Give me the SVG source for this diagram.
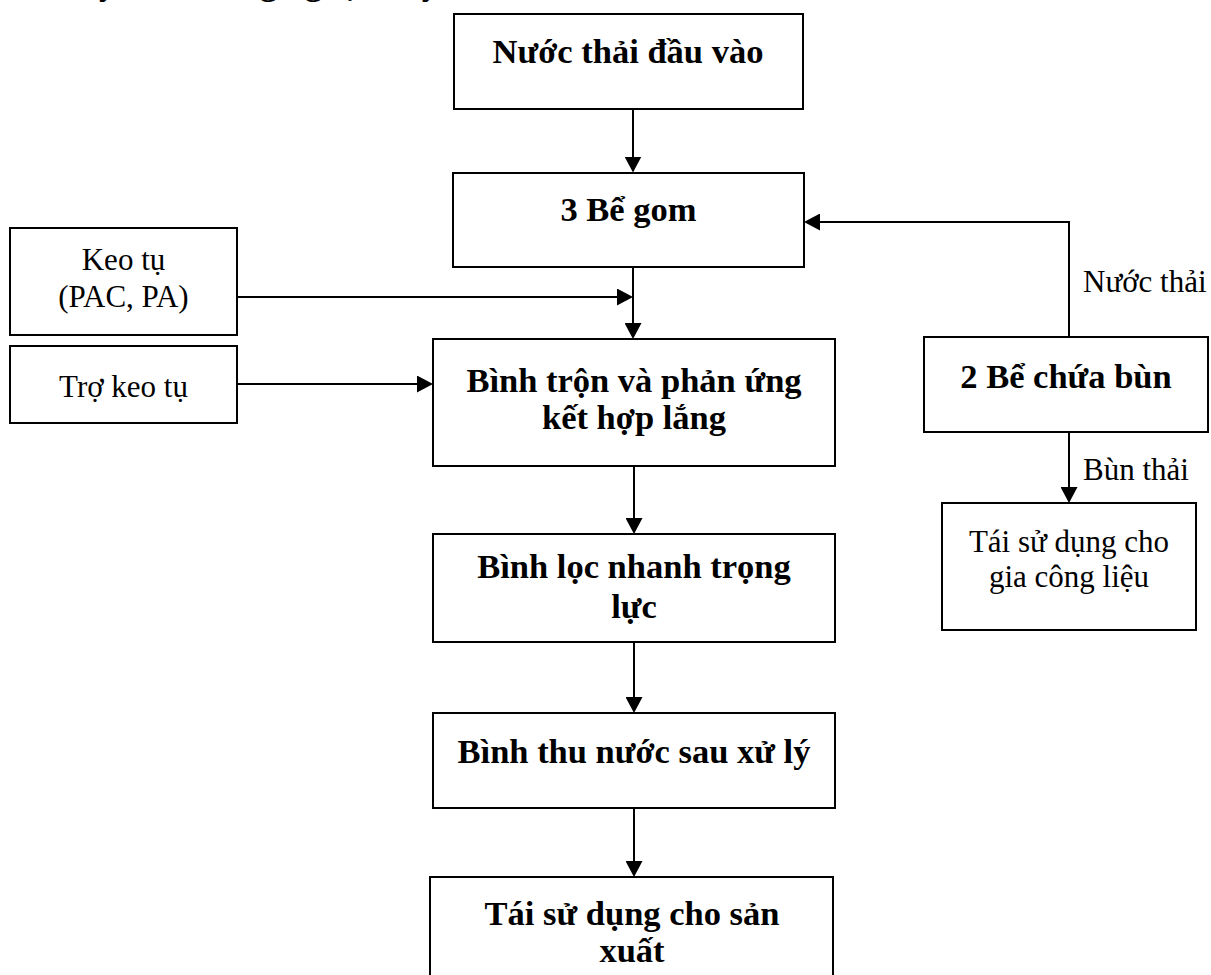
<svg xmlns="http://www.w3.org/2000/svg" width="1211" height="975" viewBox="0 0 1211 975">
  <style>
    .box { fill: #ffffff; stroke: #000000; stroke-width: 2; }
    .line { fill: none; stroke: #000000; stroke-width: 2; stroke-linecap: butt; }
    .arrow { marker-end: url(#head); }
    .b { font-family: "Liberation Serif", "Times New Roman", serif; font-weight: bold; font-size: 34.5px; fill: #000000; text-anchor: middle; }
    .r { font-family: "Liberation Serif", "Times New Roman", serif; font-size: 31px; fill: #000000; text-anchor: middle; }
    .lbl { font-family: "Liberation Serif", "Times New Roman", serif; font-size: 31px; fill: #000000; text-anchor: start; }
  </style>
  <defs>
    <marker id="head" markerUnits="userSpaceOnUse" markerWidth="17" markerHeight="17" viewBox="0 0 17 17" refX="13" refY="8.5" orient="auto">
      <path d="M0,0 L16,8.5 L0,17 Z" fill="#000000"/>
    </marker>
  </defs>
  <rect width="1211" height="975" fill="#ffffff"/>

  <!-- heading line, mostly above the page edge -->
  <text x="53" y="-5" class="b" style="text-anchor:start">Quy trình công nghệ xử lý</text>

  <!-- connectors -->
  <g id="connectors">
    <path class="line arrow" d="M633,109 L633,169.5"/>
    <path class="line arrow" d="M633,267 L633,336"/>
    <path class="line arrow" d="M237,297 L630,297"/>
    <path class="line arrow" d="M237,384 L430,384"/>
    <path class="line arrow" d="M1069,337 L1069,222 L807,222"/>
    <path class="line arrow" d="M1069,432 L1069,500"/>
    <path class="line arrow" d="M634,466 L634,531"/>
    <path class="line arrow" d="M634,642 L634,710"/>
    <path class="line arrow" d="M634,808 L634,874"/>
    <text x="1083" y="292" class="lbl">Nước thải</text>
    <text x="1083" y="480" class="lbl">Bùn thải</text>
  </g>

  <g id="n-input">
    <rect class="box" x="454" y="14" width="349" height="95"/>
    <text x="628" y="63" class="b">Nước thải đầu vào</text>
  </g>

  <g id="n-collect">
    <rect class="box" x="453" y="173" width="351" height="94"/>
    <text x="628.5" y="221" class="b">3 Bể gom</text>
  </g>

  <g id="n-coagulant">
    <rect class="box" x="10" y="228" width="227" height="107"/>
    <text x="123.5" y="270" class="r">Keo tụ</text>
    <text x="123.5" y="307" class="r">(PAC, PA)</text>
  </g>

  <g id="n-aid">
    <rect class="box" x="10" y="346" width="227" height="77"/>
    <text x="123.5" y="397" class="r">Trợ keo tụ</text>
  </g>

  <g id="n-mix">
    <rect class="box" x="433" y="339" width="402" height="127"/>
    <text x="634" y="392" class="b">Bình trộn và phản ứng</text>
    <text x="634" y="429" class="b">kết hợp lắng</text>
  </g>

  <g id="n-filter">
    <rect class="box" x="433" y="534" width="402" height="108"/>
    <text x="634" y="578" class="b">Bình lọc nhanh trọng</text>
    <text x="634" y="618" class="b">lực</text>
  </g>

  <g id="n-treated">
    <rect class="box" x="433" y="713" width="402" height="95"/>
    <text x="634" y="763" class="b">Bình thu nước sau xử lý</text>
  </g>

  <g id="n-reuse">
    <rect class="box" x="430" y="877" width="403" height="110"/>
    <text x="632" y="925" class="b">Tái sử dụng cho sản</text>
    <text x="632" y="962" class="b">xuất</text>
  </g>

  <g id="n-sludge">
    <rect class="box" x="924" y="337" width="284" height="95"/>
    <text x="1066" y="388" class="b">2 Bể chứa bùn</text>
  </g>

  <g id="n-sludge-reuse">
    <rect class="box" x="942" y="503" width="254" height="127"/>
    <text x="1069" y="552" class="r">Tái sử dụng cho</text>
    <text x="1069" y="587" class="r">gia công liệu</text>
  </g>
</svg>
